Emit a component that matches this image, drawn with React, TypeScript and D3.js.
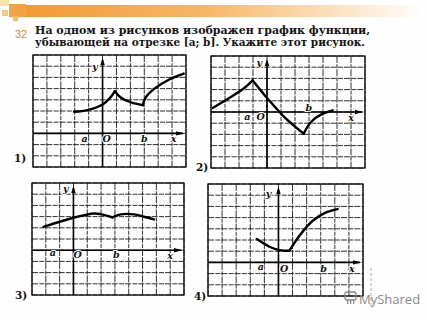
import React from "react";
import * as d3 from "d3";

type Pt = [number, number];

const headerLine1 = "На одном из рисунков изображен график функции,";
const headerLine2 = "убывающей на отрезке [a; b]. Укажите этот рисунок.";
const taskNumber = "32";
const panelTags = ["1)", "2)", "3)", "4)"];

// curve segments in grid units (x, y)
const p1Seg1: Pt[] = [[-2.05, 1.93], [-1.08, 2.08], [0, 2.58], [0.6, 3.26], [0.89, 3.77]];
const p1Seg2: Pt[] = [[0.89, 3.77], [1.33, 3.18], [2.05, 2.76], [2.89, 2.52]];
const p1Seg3: Pt[] = [[2.89, 2.52], [3.13, 3.26], [3.73, 4.0], [4.7, 4.75], [5.83, 5.34]];

const p2Seg1: Pt[] = [[-3.88, 0.36], [-2.7, 1.25], [-1.62, 2.14], [-1.02, 2.82]];
const p2Seg2: Pt[] = [[-1.02, 2.82], [0.05, 1.19], [1.24, -0.45], [2.62, -1.93]];
const p2Seg3: Pt[] = [[2.62, -1.93], [3.14, -0.89], [3.98, -0.15], [4.69, 0.15]];

const p3Seg1: Pt[] = [[-2.17, 2.09], [0, 2.9], [1.49, 3.28], [1.98, 3.22], [2.82, 2.93]];
const p3Seg2: Pt[] = [[2.82, 2.93], [3.42, 3.2], [4.39, 3.2], [5.1, 2.99], [5.83, 2.75]];

const p4Seg1: Pt[] = [[-1.54, 2.08], [-0.64, 1.4], [0.07, 1.1], [0.78, 1.04]];
const p4Seg2: Pt[] = [[0.78, 1.04], [1.49, 2.38], [2.43, 3.72], [3.38, 4.46], [4.2, 4.76]];

// label positions in grid units: a, O, b, x, y
const p1Labels: Pt[] = [[-1.3, -0.5], [0.3, -0.5], [3.0, -0.5], [5.1, -0.55], [-0.55, 5.9]];
const p2Labels: Pt[] = [[-1.4, -0.45], [-0.45, -0.5], [2.98, 0.35], [6.0, -0.6], [-0.55, 4.3]];
const p3Labels: Pt[] = [[-1.5, -0.3], [0.3, -0.45], [3.1, -0.45], [7.0, -0.6], [-0.55, 5.4]];
const p4Labels: Pt[] = [[-1.25, -0.45], [0.4, -0.6], [3.2, -0.65], [5.2, -0.65], [-0.7, 6.1]];
const labelTexts = ["a", "O", "b", "x", "y"];

interface Panel {
  left: number; top: number; right: number; bottom: number;
  yAxisCol: number; xAxisRow: number;
  segs: Pt[][]; labels: Pt[];
  tag: string; tagX: number; tagY: number;
}

const COLS = 11;
const ROWS = 10;

const panels: Panel[] = [
  { left: 33, top: 55, right: 186, bottom: 167, yAxisCol: 5, xAxisRow: 7, segs: [p1Seg1, p1Seg2, p1Seg3], labels: p1Labels, tag: panelTags[0], tagX: 14, tagY: 162 },
  { left: 211, top: 56, right: 365, bottom: 168, yAxisCol: 4, xAxisRow: 5, segs: [p2Seg1, p2Seg2, p2Seg3], labels: p2Labels, tag: panelTags[1], tagX: 196, tagY: 171 },
  { left: 32, top: 183, right: 184, bottom: 295, yAxisCol: 3, xAxisRow: 6, segs: [p3Seg1, p3Seg2], labels: p3Labels, tag: panelTags[2], tagX: 15, tagY: 299 },
  { left: 208, top: 184, right: 363, bottom: 296, yAxisCol: 5, xAxisRow: 7, segs: [p4Seg1, p4Seg2], labels: p4Labels, tag: panelTags[3], tagX: 194, tagY: 300 },
];

function PanelView({ p }: { p: Panel }) {
  const x = d3.scaleLinear().domain([-p.yAxisCol, COLS - p.yAxisCol]).range([p.left, p.right]);
  const y = d3.scaleLinear().domain([-(ROWS - p.xAxisRow), p.xAxisRow]).range([p.bottom, p.top]);
  const line = d3.line<Pt>().x((d) => x(d[0])).y((d) => y(d[1])).curve(d3.curveCatmullRom.alpha(0.5));
  const xTicks = d3.range(-p.yAxisCol, COLS - p.yAxisCol + 1);
  const yTicks = d3.range(-(ROWS - p.xAxisRow), p.xAxisRow + 1);
  const x0 = x(0);
  const y0 = y(0);
  return (
    <g>
      {xTicks.map((t) => (
        <line key={"vx" + t} x1={x(t)} x2={x(t)} y1={p.top} y2={p.bottom} stroke="#1a1a1a" strokeWidth={0.9} strokeDasharray="7 1.2 4 1" />
      ))}
      {yTicks.map((t) => (
        <line key={"hy" + t} x1={p.left} x2={p.right} y1={y(t)} y2={y(t)} stroke="#1a1a1a" strokeWidth={0.9} strokeDasharray="6 1.3 5 1" />
      ))}
      <rect x={p.left} y={p.top} width={p.right - p.left} height={p.bottom - p.top} fill="none" stroke="#111" strokeWidth={1.3} />
      {/* axes */}
      <line x1={x0} x2={x0} y1={p.bottom} y2={p.top + 5} stroke="#000" strokeWidth={1.6} />
      <path d={`M${x0 - 2.2},${p.top + 10} L${x0},${p.top + 3} L${x0 + 2.2},${p.top + 10} Z`} fill="#000" />
      <line x1={p.left} x2={p.right - 3} y1={y0} y2={y0} stroke="#000" strokeWidth={1.6} />
      <path d={`M${p.right - 10},${y0 - 2.2} L${p.right - 2},${y0} L${p.right - 10},${y0 + 2.2} Z`} fill="#000" />
      {p.segs.map((s, i) => (
        <path key={"s" + i} d={line(s) || ""} fill="none" stroke="#000" strokeWidth={2.4} strokeLinecap="round" />
      ))}
      {p.labels.map((l, i) => (
        <text key={"l" + i} x={x(l[0])} y={y(l[1])} dominantBaseline="middle" textAnchor="middle"
          fontFamily="DejaVu Serif" fontStyle="italic" fontWeight="bold" fontSize={9.5} fill="#111"
          stroke="#fff" strokeWidth={2} paintOrder="stroke">
          {labelTexts[i]}
        </text>
      ))}
      <text x={p.tagX} y={p.tagY} fontFamily="DejaVu Serif" fontWeight="bold" fontSize={10.5} fill="#111">{p.tag}</text>
    </g>
  );
}

export default function App() {
  return (
    <svg width={427} height={320} style={{ position: "absolute", left: 0, top: 0, background: "#fff" }}>
      <defs>
        <linearGradient id="band" x1="0" x2="1" y1="0" y2="0">
          <stop offset="0" stopColor="#f29a36" />
          <stop offset="0.45" stopColor="#f7b768" />
          <stop offset="1" stopColor="#ffffff" />
        </linearGradient>
      </defs>
      <rect x={0} y={0} width={427} height={320} fill="#fefefe" />
      <rect x={26} y={5} width={400} height={12} fill="url(#band)" />
      <rect x={0} y={0} width={9} height={6} fill="#fbe2a8" />
      <rect x={9} y={4} width={17} height={13} fill="#f2a443" />
      <rect x={2} y={10} width={6} height={6} fill="#f8c878" />
      <rect x={13} y={16} width={5} height={5} fill="#f5be6a" />
      <text x={15} y={38} fontFamily="Liberation Sans" fontSize={11} fill="#e08a2a">{taskNumber}</text>
      <text x={35} y={34} fontFamily="DejaVu Serif" fontWeight="bold" fontSize={10.5} fill="#141414" textLength={335} lengthAdjust="spacingAndGlyphs">{headerLine1}</text>
      <text x={35} y={46} fontFamily="DejaVu Serif" fontWeight="bold" fontSize={10.5} fill="#141414" textLength={330} lengthAdjust="spacingAndGlyphs">{headerLine2}</text>
      {panels.map((p, i) => <PanelView key={i} p={p} />)}
      <line x1={371} x2={371} y1={268} y2={306} stroke="#999" strokeWidth={0.8} strokeDasharray="3 2" />
      <g fill="#8a8a8a">
        <rect x={345} y={292} width={11} height={8} rx={1.5} fill="none" stroke="#8a8a8a" strokeWidth={1.3} />
        <rect x={347} y={300} width={1.3} height={4} />
        <rect x={350} y={300} width={1.3} height={4} />
        <rect x={353} y={300} width={1.3} height={4} />
      </g>
      <text x={359} y={304} fontFamily="Open Sans" fontSize={13} fill="#8a8a8a">MyShared</text>
    </svg>
  );
}
